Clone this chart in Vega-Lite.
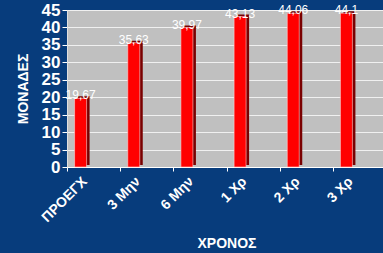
{
  "$schema": "https://vega.github.io/schema/vega-lite/v6.json",
  "autosize": {"type": "none"},
  "width": 319,
  "height": 157,
  "padding": {"left": 67, "top": 10, "right": 0, "bottom": 86},
  "background": "#073c7c",
  "config": {
    "font": "Liberation Sans",
    "view": {"fill": "#c0c0c0", "stroke": "#e0e0e0"}
  },
  "data": {"values": [
    {"xronos": "ΠΡΟΕΓΧ", "value": 19.67, "label": "19,67"},
    {"xronos": "3 Μην", "value": 35.63, "label": "35,63"},
    {"xronos": "6 Μην", "value": 39.97, "label": "39,97"},
    {"xronos": "1 Χρ", "value": 43.13, "label": "43,13"},
    {"xronos": "2 Χρ", "value": 44.06, "label": "44,06"},
    {"xronos": "3 Χρ", "value": 44.1, "label": "44,1"}
  ]},
  "encoding": {
    "x": {
      "field": "xronos", "type": "nominal", "sort": null,
      "scale": {"paddingInner": 0, "paddingOuter": 0},
      "axis": {
        "title": "ΧΡΟΝΟΣ", "titleColor": "white", "titleFontSize": 14, "titleFontWeight": "bold",
        "titlePadding": 12,
        "labelAngle": -45, "labelAlign": "right", "labelBaseline": "middle",
        "labelColor": "white", "labelFontSize": 14, "labelFontWeight": "bold",
        "labelOffset": -9, "labelPadding": 8,
        "tickBand": "extent", "tickColor": "white", "tickSize": 4,
        "domainColor": "white"
      }
    },
    "y": {
      "field": "value", "type": "quantitative",
      "scale": {"domain": [0, 45]},
      "axis": {
        "title": "ΜΟΝΑΔΕΣ", "titleColor": "white", "titleFontSize": 14, "titleFontWeight": "bold",
        "titlePadding": 11,
        "values": [0,5,10,15,20,25,30,35,40,45],
        "labelColor": "white", "labelFontSize": 17, "labelFontWeight": "bold",
        "tickColor": "white", "tickSize": 5, "labelPadding": 2,
        "domainColor": "#e0e0e0",
        "gridColor": "#f0f0f0", "gridOpacity": 1, "gridWidth": 1
      }
    }
  },
  "layer": [
    {"mark": {"type": "bar", "width": 12, "xOffset": -10, "yOffset": -2, "color": "#7a0000"}},
    {"mark": {"type": "bar", "width": 12, "xOffset": -13, "color": "#ff0000", "stroke": "#ffd0d0", "strokeWidth": 0.6}},
    {"mark": {"type": "text", "xOffset": -13, "dy": -3, "baseline": "middle", "color": "white", "fontSize": 12},
     "encoding": {"text": {"field": "label"}}}
  ]
}
